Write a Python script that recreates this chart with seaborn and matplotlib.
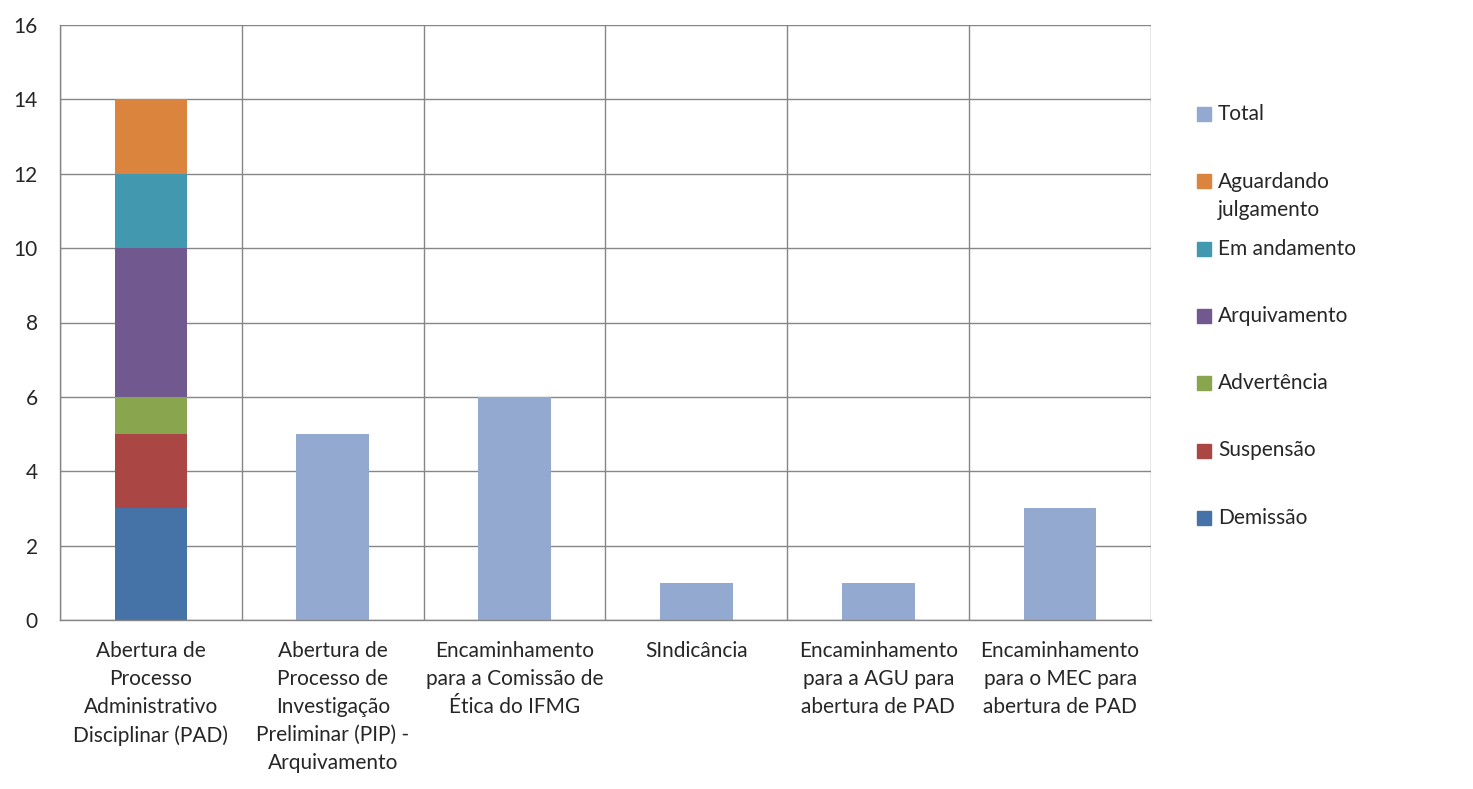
import numpy as np
import seaborn as sns
import matplotlib.pyplot as plt
from matplotlib.patches import Rectangle

# data
categories = [
    "Abertura de\nProcesso\nAdministrativo\nDisciplinar (PAD)",
    "Abertura de\nProcesso de\nInvestigação\nPreliminar (PIP) -\nArquivamento",
    "Encaminhamento\npara a Comissão de\nÉtica do IFMG",
    "SIndicância",
    "Encaminhamento\npara a AGU para\nabertura de PAD",
    "Encaminhamento\npara o MEC para\nabertura de PAD",
]
demissao = [3, 0, 0, 0, 0, 0]
suspensao = [2, 0, 0, 0, 0, 0]
advertencia = [1, 0, 0, 0, 0, 0]
arquivamento = [4, 0, 0, 0, 0, 0]
em_andamento = [2, 0, 0, 0, 0, 0]
aguardando = [2, 0, 0, 0, 0, 0]
total = [0, 5, 6, 1, 1, 3]

stack_names = ["Demissão", "Suspensão", "Advertência", "Arquivamento",
               "Em andamento", "Aguardando\njulgamento"]
stack_values = [demissao, suspensao, advertencia, arquivamento, em_andamento, aguardando]
stack_colors = ["#4572A7", "#AA4643", "#89A54E", "#71588F", "#4198AF", "#DB843D"]
total_color = "#93A9CF"
grid_color = "#868686"

sns.set_style("white")
plt.rcParams['font.family'] = ['Lato', 'DejaVu Sans']
fs = 15

W, H = 1473, 789
fig = plt.figure(figsize=(W / 100, H / 100), dpi=100)
ax = fig.add_axes([60 / W, 1 - 620 / H, (1151 - 60) / W, (620 - 25) / H])

bottom = np.zeros(len(categories))
for name, vals, c in zip(stack_names, stack_values, stack_colors):
    sns.barplot(x=categories, y=vals, bottom=bottom.copy(), color=c, width=0.4,
                saturation=1, errorbar=None, linewidth=0, order=categories, ax=ax)
    bottom += np.array(vals)
sns.barplot(x=categories, y=total, color=total_color, width=0.4,
            saturation=1, errorbar=None, linewidth=0, order=categories, ax=ax)

ax.set_ylim(0, 16)
ax.set_yticks(range(0, 17, 2))
ax.set_xlim(-0.5, len(categories) - 0.5)
ax.set_xticks(np.arange(-0.5, len(categories), 1), minor=True)
ax.tick_params(axis='x', which='major', length=0, pad=15, labelsize=fs)
ax.tick_params(axis='x', which='minor', length=5, width=1, color=grid_color)
ax.tick_params(axis='y', length=5, width=1, color=grid_color, pad=11, labelsize=fs)
ax.grid(axis='y', which='major', color=grid_color, lw=1)
ax.grid(axis='x', which='minor', color=grid_color, lw=1)
ax.set_axisbelow(True)
for s in ['top', 'right']:
    ax.spines[s].set_visible(False)
for s in ['left', 'bottom']:
    ax.spines[s].set_color(grid_color)
    ax.spines[s].set_linewidth(1)
ax.set_xlabel('')
ax.set_ylabel('')
for lab in ax.get_xticklabels():
    lab.set_linespacing(1.5)

# legend, Excel style
legend_names = ["Total"] + stack_names[::-1]
legend_colors = [total_color] + stack_colors[::-1]
y0, step, line_pitch = 114, 67.3, 30
for i, (name, c) in enumerate(zip(legend_names, legend_colors)):
    yc = y0 + step * i
    fig.patches.append(Rectangle((1197 / W, 1 - (yc + 7) / H), 14 / W, 14 / H,
                                 transform=fig.transFigure, color=c))
    nlines = name.count("\n") + 1
    fig.text(1218 / W, 1 - (yc + (nlines - 1) * line_pitch / 2) / H, name,
             fontsize=fs, va='center', ha='left', linespacing=1.5)

fig.savefig('out.png', dpi=100)
